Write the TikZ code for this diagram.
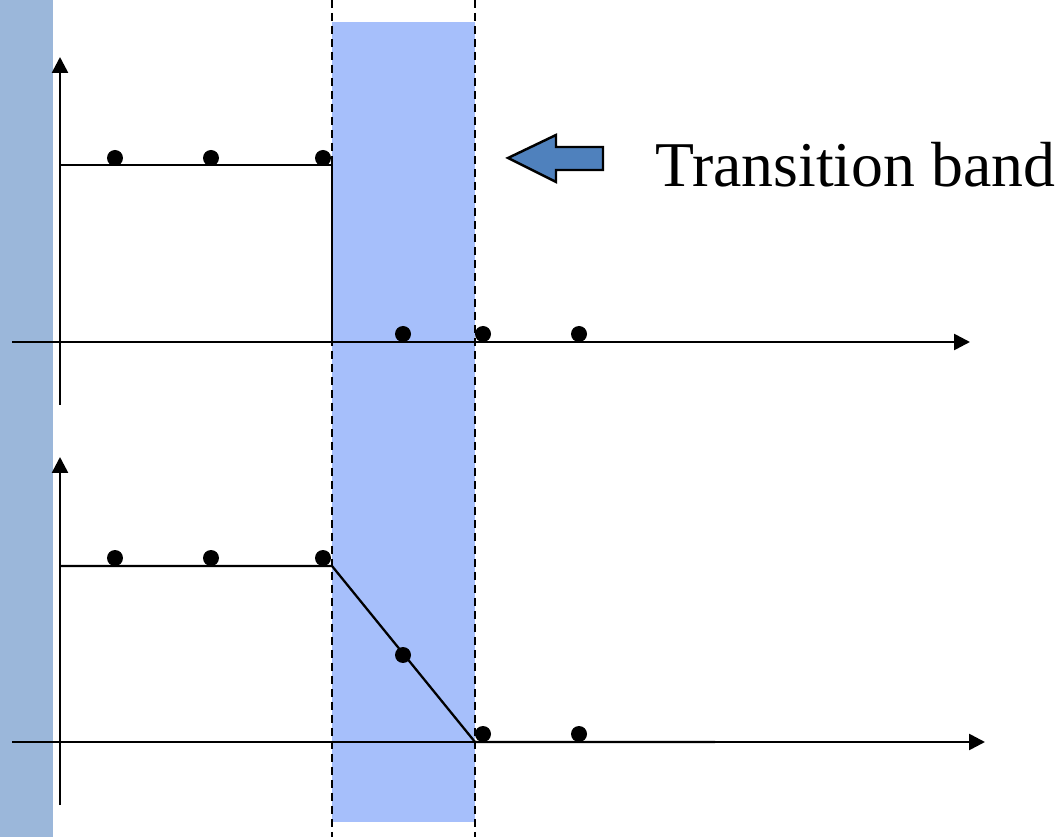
\documentclass[tikz,border=0pt]{standalone}
\usepackage{fontspec}
\setmainfont{Liberation Serif}
\usetikzlibrary{arrows.meta}
\definecolor{leftband}{HTML}{9BB7DA}
\definecolor{tband}{HTML}{A6BFFB}
\definecolor{arrowblue}{HTML}{4F81BD}
\tikzset{
  axis/.style={line width=1.5pt,-{Triangle[length=0.32cm,width=0.32cm]}},
  sig/.style={line width=1.3pt},
  dot/.style={circle,fill=black,inner sep=0pt,minimum size=0.32cm},
  edge/.style={line width=1.1pt,dash pattern=on 0.16cm off 0.1cm},
  blockarrow/.style={draw=black,line width=1.4pt,fill=arrowblue,line join=miter},
}
\begin{document}
\begin{tikzpicture}[x=0.02cm,y=-0.02cm]
\useasboundingbox (0,0) rectangle (1055,837);
% bands
\fill[leftband] (0,0) rectangle (53,837);
\fill[tband] (332,22) rectangle (475,822);
\draw[edge] (332,0) -- (332,837);
\draw[edge] (475,0) -- (475,837);
% top plot
\coordinate (ty0) at (60,405); \coordinate (ty1) at (60,57);
\coordinate (tx0) at (12,342); \coordinate (tx1) at (970,342);
\draw[axis] (ty0) -- (ty1);
\draw[axis] (tx0) -- (tx1);
\coordinate (ta) at (60,165); \coordinate (tb) at (332,165);
\coordinate (tc) at (332,342); \coordinate (td) at (715,342);
\draw[sig] (ta) -- (tb) -- (tc) -- (td);
\node[dot] (t1) at (115,158) {};
\node[dot] (t2) at (211,158) {};
\node[dot] (t3) at (323,158) {};
\node[dot] (t4) at (403,334) {};
\node[dot] (t5) at (483,334) {};
\node[dot] (t6) at (579,334) {};
% bottom plot
\coordinate (by0) at (60,805); \coordinate (by1) at (60,457);
\coordinate (bx0) at (12,742); \coordinate (bx1) at (985,742);
\draw[axis] (by0) -- (by1);
\draw[axis] (bx0) -- (bx1);
\coordinate (ba) at (60,566); \coordinate (bb) at (332,566);
\coordinate (bc) at (475,742); \coordinate (bd) at (715,742);
\draw[sig] (ba) -- (bb) -- (bc) -- (bd);
\node[dot] (b1) at (115,558) {};
\node[dot] (b2) at (211,558) {};
\node[dot] (b3) at (323,558) {};
\node[dot] (b4) at (403,655) {};
\node[dot] (b5) at (483,734) {};
\node[dot] (b6) at (579,734) {};
% label arrow
\draw[blockarrow] (508,158) -- (556,135) -- (556,147) -- (603,147) -- (603,170)
  -- (556,170) -- (556,182) -- cycle;
\node[anchor=base west, inner sep=0pt, font=\fontsize{36.3}{44}\selectfont] (lbl) at (655,187) {Transition band};
\end{tikzpicture}
\end{document}
